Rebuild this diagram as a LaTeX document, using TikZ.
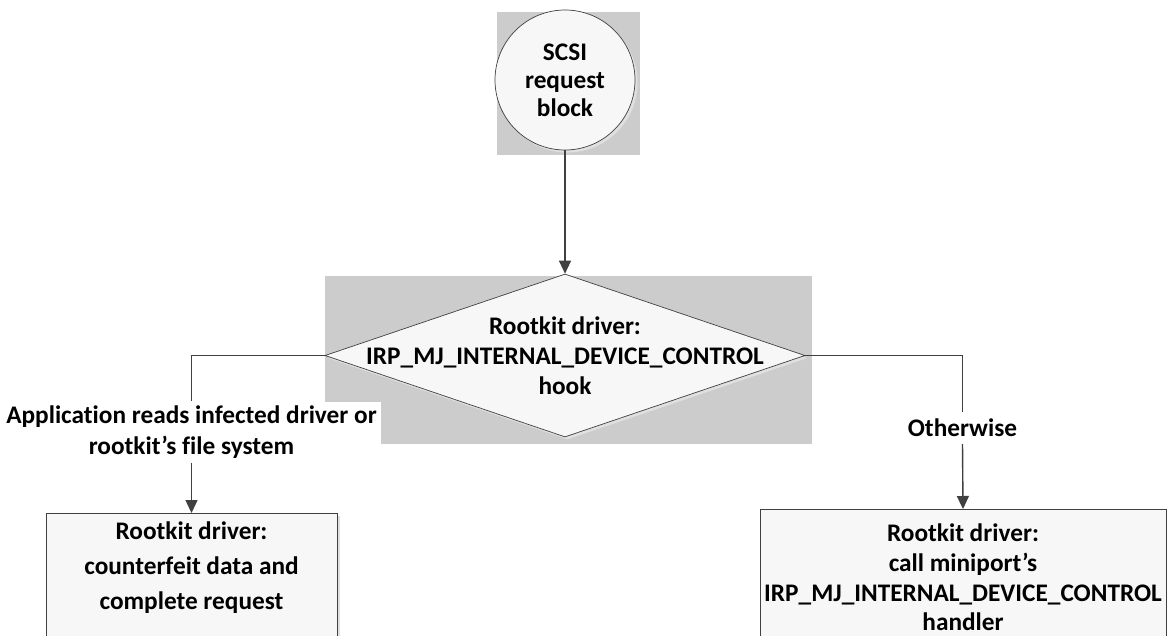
\documentclass[tikz,border=0pt]{standalone}
\usepackage{fontspec}
\setmainfont{Carlito}[Ligatures=NoCommon]
\usepackage{tikz}
\usetikzlibrary{positioning,shapes.geometric,arrows.meta,shadows}

\begin{document}
\begin{tikzpicture}[x=1pt,y=-1pt,
        backdrop/.style={fill=black!20,draw=none},
        flowline/.style={draw=black!75,line width=1.4pt},
        flowarrow/.style={flowline,-{Triangle[length=13pt,width=12pt]}},
        lightshadow/.style={drop shadow={shadow xshift=2.5pt,shadow yshift=-2.5pt,fill=black!12,opacity=1}},
        txt/.style={font=\fontsize{25.3}{28}\selectfont\bfseries,align=center,inner sep=0pt,text=black},
        srbshape/.style={circle,draw=black!75,line width=.7pt,fill=black!3,minimum size=140pt,lightshadow},
        decision/.style={diamond,draw=black!75,line width=.7pt,fill=black!3,minimum width=480pt,minimum height=163pt,inner sep=0pt,lightshadow},
        procbox/.style={rectangle,draw=black!75,line width=.7pt,fill=black!3,anchor=north,inner sep=0pt,lightshadow},
        cond/.style={txt,fill=white,inner sep=4pt}]
    \useasboundingbox (0,0) rectangle (1167,635);
    \clip (0,0) rectangle (1167,635);
    % gray backdrops
    \fill[backdrop] (497,12) rectangle (640,155);
    \fill[backdrop] (325,276) rectangle (812,444);
    % shapes
    \node[txt,srbshape] (srb) at (565,80) {SCSI\\request\\block};
    \node[decision] (hook) at (565,355.5) {};
    \node[txt,font=\fontsize{25.3}{30}\selectfont\bfseries] (hooktext) at (hook.center) {Rootkit driver:\\IRP\_MJ\_INTERNAL\_DEVICE\_CONTROL\\hook};
    \node[procbox,minimum width=291pt,minimum height=150pt] (fakebox) at (191.5,513) {};
    \node[txt,font=\fontsize{25.3}{35}\selectfont\bfseries] (faketext) at (191.5,567.5) {Rootkit driver:\\counterfeit data and\\complete request};
    \node[procbox,minimum width=406pt,minimum height=150pt] (realbox) at (963,509) {};
    \node[txt,font=\fontsize{25.3}{29.7}\selectfont\bfseries] (realtext) at (963,577.5) {Rootkit driver:\\call miniport’s\\IRP\_MJ\_INTERNAL\_DEVICE\_CONTROL\\handler};
    % branch labels
    \node[cond,font=\fontsize{25.3}{31}\selectfont\bfseries] (readcond) at (191.5,432) {Application reads infected driver or\\rootkit’s file system};
    \node[cond,inner ysep=7pt] (othercond) at (962.5,428) {Otherwise};
    % connectors
    \draw[flowarrow] (srb) -- (hook);
    \draw[flowline] (hook.west) -| (readcond.north);
    \draw[flowarrow] (readcond.south) -- (fakebox.north);
    \draw[flowline] (hook.east) -| (othercond.north);
    \draw[flowarrow] (othercond.south) -- (realbox.north);
\end{tikzpicture}
\end{document}
